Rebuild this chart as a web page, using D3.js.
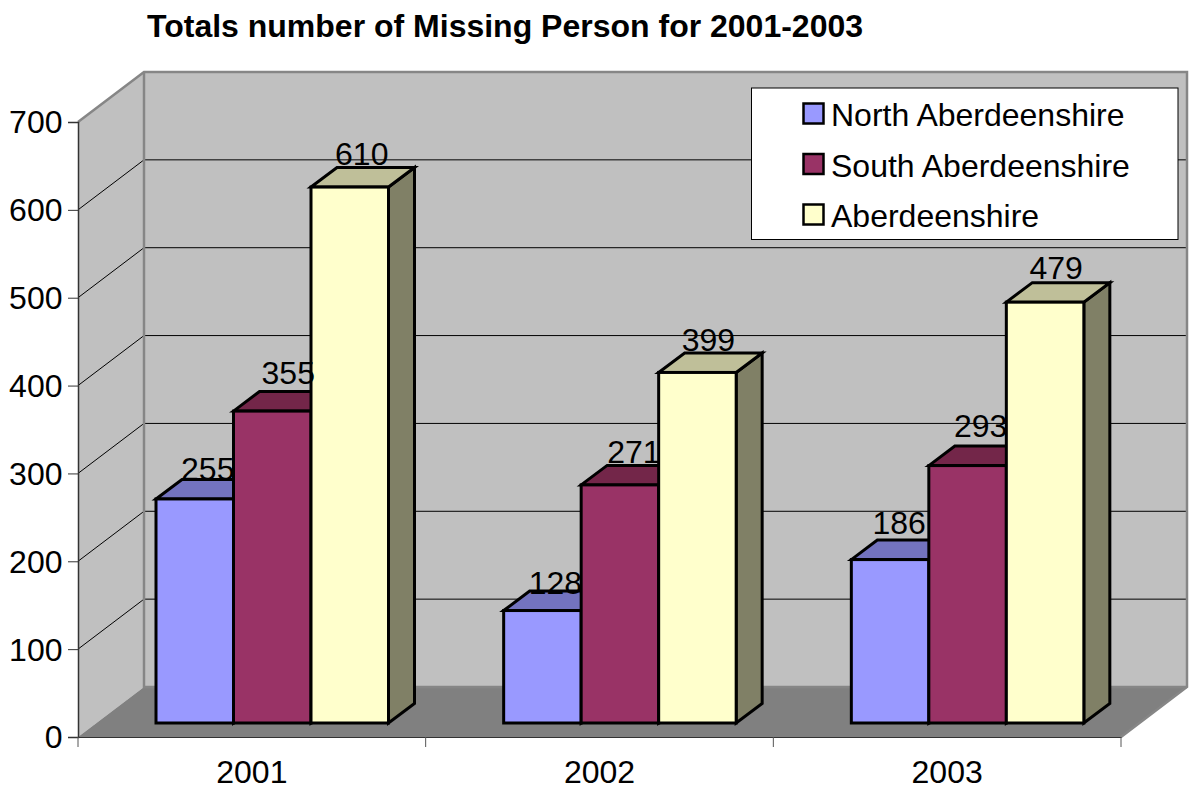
<!DOCTYPE html>
<html><head><meta charset="utf-8">
<script src="https://cdn.jsdelivr.net/npm/d3@7/dist/d3.min.js"></script>
<style>html,body{margin:0;padding:0;background:#fff}svg{display:block}text{font-family:"Liberation Sans",Arial,sans-serif;fill:#000}</style>
</head><body><svg id="c" width="1191" height="790"></svg>
<script>
const title = "Totals number of Missing Person for 2001-2003";
const categories = ["2001", "2002", "2003"];
const seriesNames = ["North Aberdeenshire", "South Aberdeenshire", "Aberdeenshire"];
const northValues = [255, 128, 186];
const southValues = [355, 271, 293];
const shireValues = [610, 399, 479];
const yTicks = [0, 100, 200, 300, 400, 500, 600, 700];

const frontFill = ["#9999ff", "#993366", "#ffffcc"];
const topFill = ["#7373bf", "#732649", "#bfbf99"];
const sideFill = ["#4d4d80", "#4d1a33", "#808066"];
const seriesValues = [northValues, southValues, shireValues];
// small per-label placement nudges [dx, dy], by series then category
const labelNudge = [
  [[0, 0.5], [0, 3], [-4, -6]],
  [[3, -7.5], [1, -2.5], [0, -9.4]],
  [[-1, -2.5], [-2, -2], [-2, -3.5]]
];

const svg = d3.select("#c");
const x0 = 78, x1 = 1121, y0 = 737, y7 = 122;
const wallDx = 66, wallDy = -50;      // back wall offset from front plane
const barInsetY = 14;                 // bars stand this far behind the front edge
const barDx = 26, barDy = -19.5;      // bar depth
const fontSize = 32;

const x = d3.scaleBand().domain(categories).range([x0, x1]);
const y = d3.scaleLinear().domain([0, 700]).range([y0, y7]);
const xSeries = d3.scaleBand().domain(seriesNames).range([156, 388.5]);
const path = d3.line();

// walls and floor
svg.append("path").attr("d", path([[x0, y(700)], [x0 + wallDx, y(700) + wallDy], [x0 + wallDx, y0 + wallDy], [x0, y0]]) + "Z")
  .attr("fill", "#c0c0c0");
svg.append("rect").attr("x", x0 + wallDx).attr("y", y(700) + wallDy).attr("width", x1 - x0).attr("height", y0 - y(700))
  .attr("fill", "#c0c0c0");
svg.append("path").attr("d", path([[x0, y0], [x0 + wallDx, y0 + wallDy], [x1 + wallDx, y0 + wallDy], [x1, y0]]) + "Z")
  .attr("fill", "#808080");

// gridlines
svg.append("g").selectAll("path").data(yTicks.slice(1, -1)).join("path")
  .attr("fill", "none").attr("stroke", "#000").attr("stroke-width", 1)
  .attr("d", v => path([[x0, y(v)], [x0 + wallDx, y(v) + wallDy], [x1 + wallDx, y(v) + wallDy]]));

// wall edges
svg.append("path").attr("fill", "none").attr("stroke", "#868686").attr("stroke-width", 2.5)
  .attr("d", path([[x0, y(700)], [x0 + wallDx, y(700) + wallDy], [x1 + wallDx, y(700) + wallDy], [x1 + wallDx, y0 + wallDy], [x1, y0]]));
svg.append("path").attr("fill", "none").attr("stroke", "#868686").attr("stroke-width", 2.5)
  .attr("d", path([[x0 + wallDx, y(700) + wallDy], [x0 + wallDx, y0 + wallDy], [x1 + wallDx, y0 + wallDy]]));

// axes
const yAxis = d3.axisLeft(y).tickValues(yTicks).tickSize(10).tickPadding(5.5);
const gy = svg.append("g").attr("transform", `translate(${x0},0)`).call(yAxis);
gy.selectAll("text").attr("font-size", fontSize).attr("dy", "0.34em").style("font-family", '"Liberation Sans",Arial,sans-serif');
gy.selectAll("line, .domain").attr("stroke", "#333");
gy.select(".domain").attr("stroke-width", 1.5);

const xAxis = d3.axisBottom(x).tickSize(0).tickPadding(23);
const gx = svg.append("g").attr("transform", `translate(0,${y0})`).call(xAxis);
gx.select(".domain").attr("stroke", "#333");
gx.selectAll("text").attr("font-size", fontSize).style("font-family", '"Liberation Sans",Arial,sans-serif');
svg.append("g").selectAll("line").data([...categories.map(c => x(c)), x1]).join("line")
  .attr("x1", d => d).attr("x2", d => d).attr("y1", y0).attr("y2", y0 + 10).attr("stroke", "#555");

// bars
const labels = [];
categories.forEach((cat, ci) => {
  seriesNames.forEach((name, si) => {
    const v = seriesValues[si][ci];
    const l = x(cat) - x0 + xSeries(name), r = l + xSeries.bandwidth();
    const b = y(0) - barInsetY, t = y(v) - barInsetY;
    const g = svg.append("g").attr("stroke", "#000").attr("stroke-width", 3).attr("stroke-linejoin", "miter");
    g.append("path").attr("fill", sideFill[si])
      .attr("d", path([[r, t], [r + barDx, t + barDy], [r + barDx, b + barDy], [r, b]]) + "Z");
    g.append("path").attr("fill", topFill[si])
      .attr("d", path([[l, t], [l + barDx, t + barDy], [r + barDx, t + barDy], [r, t]]) + "Z");
    g.append("rect").attr("x", l).attr("y", t).attr("width", r - l).attr("height", b - t).attr("fill", frontFill[si]);
    const [nx, ny] = labelNudge[si][ci];
    labels.push({v, cx: (l + r) / 2 + barDx / 2 + nx, y: t + barDy + ny});
  });
});
svg.append("g").selectAll("text").data(labels).join("text")
  .attr("x", d => d.cx).attr("y", d => d.y).attr("text-anchor", "middle").attr("font-size", fontSize).text(d => d.v);

// legend
svg.append("rect").attr("x", 751.5).attr("y", 88).attr("width", 426.5).attr("height", 151.5)
  .attr("fill", "#fff").attr("stroke", "#000").attr("stroke-width", 1);
const lg = svg.append("g").selectAll("g").data(seriesNames).join("g");
lg.append("rect").attr("x", 803.5).attr("y", (d, i) => 103.5 + i * 50.5).attr("width", 20).attr("height", 20)
  .attr("fill", (d, i) => frontFill[i]).attr("stroke", "#000").attr("stroke-width", 2.5);
lg.append("text").attr("x", 831).attr("y", (d, i) => 126 + i * 50.5).attr("font-size", fontSize).text(d => d);

// title
svg.append("text").attr("x", 147).attr("y", 37).attr("font-size", 32).attr("font-weight", "bold").text(title);
</script></body></html>
